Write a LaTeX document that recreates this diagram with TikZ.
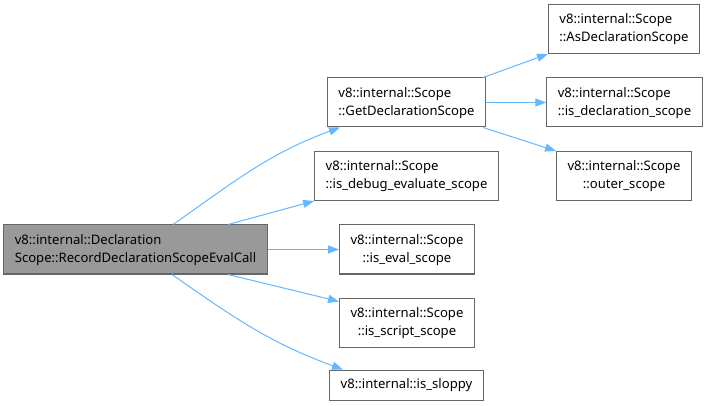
\documentclass[tikz,border=0pt]{standalone}
\usepackage{fontspec}
\setmainfont{Noto Sans}
\usetikzlibrary{arrows.meta,positioning}
\definecolor{edgeblue}{HTML}{63B8FF}
\definecolor{boxline}{HTML}{666666}
\definecolor{rootgray}{HTML}{999999}
\newcommand{\fnlabel}[2]{\begin{tabular}{@{}l@{}}#1\\\multicolumn{1}{@{}c@{}}{#2}\end{tabular}}

\begin{document}
\begin{tikzpicture}[
  x=1pt, y=1pt,
  font=\fontsize{13.1}{18}\selectfont,
  fn/.style={draw=boxline, line width=1pt, fill=white, inner xsep=11pt, inner ysep=6.5pt, minimum height=49pt},
  fnroot/.style={fn, fill=rootgray},
  call/.style={draw=edgeblue, line width=1pt, -{Triangle[length=11pt,width=8pt]}}
]
\useasboundingbox (0,0) rectangle (707,-406);

\node[fnroot] (root) at (135.5,-249.5) {\fnlabel{v8::internal::Declaration}{Scope::RecordDeclarationScopeEvalCall}};

\node[fn] (getdecl) at (406.5,-102.5) {\fnlabel{v8::internal::Scope}{::GetDeclarationScope}};
\node[fn] (isdebug) at (406.5,-176) {\fnlabel{v8::internal::Scope}{::is\_debug\_evaluate\_scope}};
\node[fn] (iseval) at (407,-249.5) {\fnlabel{v8::internal::Scope}{::is\_eval\_scope}};
\node[fn] (isscript) at (407,-322.5) {\fnlabel{v8::internal::Scope}{::is\_script\_scope}};
\node[fn, minimum height=30pt] (issloppy) at (406.5,-385) {v8::internal::is\_sloppy};

\node[fn] (asdecl) at (624,-29) {\fnlabel{v8::internal::Scope}{::AsDeclarationScope}};
\node[fn] (isdecl) at (624.5,-102.5) {\fnlabel{v8::internal::Scope}{::is\_declaration\_scope}};
\node[fn] (outer) at (624,-176) {\fnlabel{v8::internal::Scope}{::outer\_scope}};

\draw[call] ([xshift=37.5pt]root.north) to[out=35,in=200] ([xshift=-66.5pt]getdecl.south);
\draw[call] ([xshift=92.5pt]root.north) -- (isdebug.south west);
\draw[call] (root) -- (iseval);
\draw[call] ([xshift=92.5pt]root.south) -- ([yshift=-4pt]isscript.north west);
\draw[call] ([xshift=36.5pt]root.south) to[out=-35,in=160] ([xshift=-63.5pt]issloppy.north);

\draw[call] ([xshift=-3pt]getdecl.north east) -- (asdecl.south west);
\draw[call] (getdecl) -- (isdecl);
\draw[call] ([xshift=-3pt]getdecl.south east) -- (outer.north west);
\end{tikzpicture}
\end{document}
